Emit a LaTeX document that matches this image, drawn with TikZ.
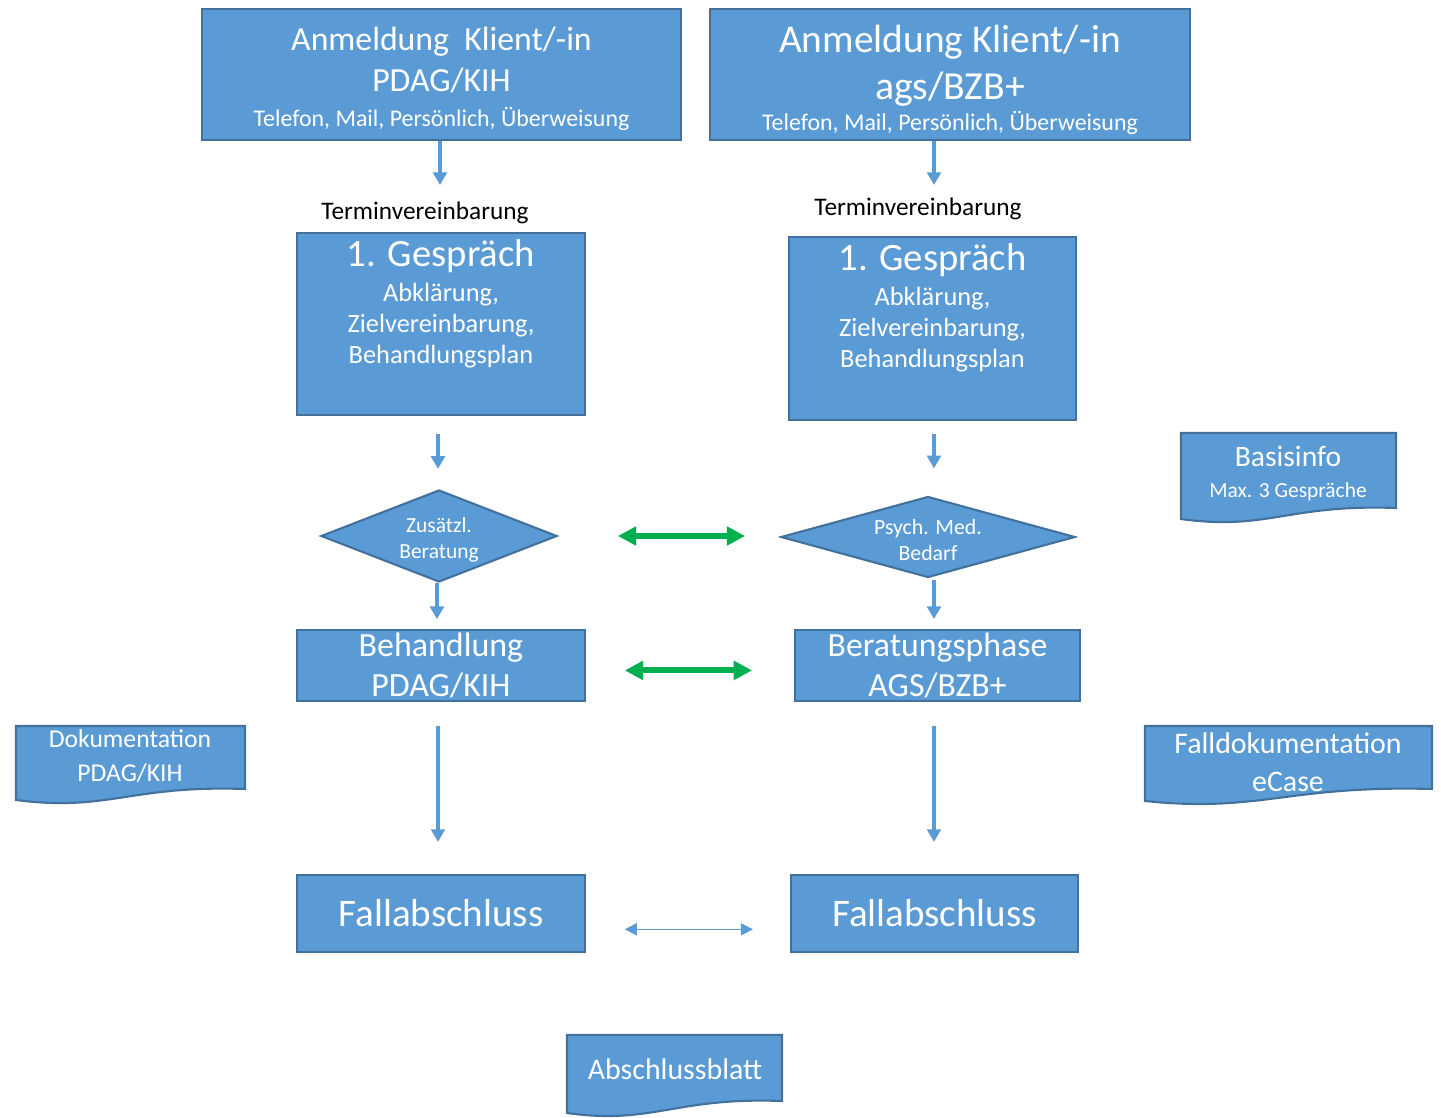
\documentclass[tikz,border=0pt]{standalone}
\usepackage{fontspec}
\setmainfont{Carlito}
\usetikzlibrary{arrows.meta,shapes.geometric,positioning}
\definecolor{boxblue}{HTML}{5B9BD5}
\definecolor{boxline}{HTML}{41719C}
\definecolor{linkgreen}{HTML}{00B050}
\newcommand{\fs}[2]{\fontsize{#1}{#2}\selectfont}

\begin{document}
\begin{tikzpicture}[x=0.01cm,y=-0.01cm,
    box/.style={draw=boxline,fill=boxblue,line width=0.6pt,text=white,align=center,inner sep=0pt},
    dec/.style={diamond,draw=boxline,fill=boxblue,line width=0.6pt,text=white,align=center,inner sep=0pt},
    doc/.style={draw=boxline,fill=boxblue,line width=0.6pt},
    txt/.style={text=white,align=center,inner sep=0pt},
    flow/.style={draw=boxblue,line width=1.1pt,-{Triangle[length=3.6pt,width=3.9pt]}},
    link/.style={draw=linkgreen,line width=1.7pt,{Triangle[length=5.2pt,width=5.2pt]}-{Triangle[length=5.2pt,width=5.2pt]}},
    thinlink/.style={draw=boxblue,line width=0.4pt,{Triangle[length=3.4pt,width=3.4pt]}-{Triangle[length=3.4pt,width=3.4pt]}}]
    \useasboundingbox (0,0) rectangle (1441,1118);

    % linke Spalte
    \node[box,minimum width=4.79cm,minimum height=1.31cm,font=\fs{9.6}{11.6}] (anmA) at (441.5,74.5)
        {\rule{0pt}{9.2pt}\fs{9.6}{11.6}Anmeldung~ Klient/-in\\\fs{9.6}{11.6}PDAG/KIH\\[-1.7pt]\fs{6.8}{8}Telefon, Mail, Persönlich, Überweisung};
    \node[inner sep=0pt,font=\fs{7.2}{8}] (termA) at (425,213) {Terminvereinbarung};
    \node[box,minimum width=2.88cm,minimum height=1.82cm] (gespA) at (441,324) {};
    \node[txt,below=2pt of gespA.north,font=\fs{7.5}{8.9}] (gespAtxt)
        {\fs{11}{13}1. Gespräch\\[1pt]\fs{7.5}{8.9}Abklärung,\\\fs{7.5}{8.9}Zielvereinbarung,\\\fs{7.5}{8.9}Behandlungsplan};
    \node[dec,aspect=2.57,minimum width=2.36cm,minimum height=0.92cm,font=\fs{6.1}{7.4}] (zusA) at (439,536) {\rule{0pt}{6.5pt}Zusätzl.\\Beratung};
    \node[box,minimum width=2.88cm,minimum height=0.71cm,font=\fs{9.65}{11.6}] (behA) at (441,665.5) {Behandlung\\PDAG/KIH};
    \node[box,minimum width=2.88cm,minimum height=0.77cm,font=\fs{11.1}{13}] (endA) at (441,913.5) {Fallabschluss};

    % rechte Spalte
    \node[box,minimum width=4.80cm,minimum height=1.31cm,font=\fs{11.2}{13.3}] (anmB) at (950,74.5)
        {\rule{0pt}{10.8pt}\fs{11.2}{13.3}Anmeldung Klient/-in\\\fs{11.3}{13.3}ags/BZB+\\[-4.5pt]\fs{6.8}{8}Telefon, Mail, Persönlich, Überweisung};
    \node[inner sep=0pt,font=\fs{7.2}{8}] (termB) at (918,209) {Terminvereinbarung};
    \node[box,minimum width=2.87cm,minimum height=1.83cm] (gespB) at (932.5,328.5) {};
    \node[txt,below=2pt of gespB.north,font=\fs{7.5}{8.9}] (gespBtxt)
        {\fs{11}{13}1. Gespräch\\[1pt]\fs{7.5}{8.9}Abklärung,\\\fs{7.5}{8.9}Zielvereinbarung,\\\fs{7.5}{8.9}Behandlungsplan};
    \node[dec,aspect=3.63,minimum width=2.94cm,minimum height=0.81cm,font=\fs{6.2}{7.4}] (psyB) at (928,537) {\rule{0pt}{6pt}Psych. Med.\\Bedarf};
    \node[box,minimum width=2.85cm,minimum height=0.71cm,font=\fs{9.6}{11.2}] (berB) at (937.5,665.5) {Beratungsphase\\AGS/BZB+};
    \node[box,minimum width=2.87cm,minimum height=0.77cm,font=\fs{11.1}{13}] (endB) at (934.5,913.5) {Fallabschluss};

    % Dokumente
    \filldraw[doc] (1181,433) -- (1396,433) -- (1396,508) .. controls (1288,504) and (1267,531) .. (1181,519) -- cycle;
    \node[txt,font=\fs{6.1}{8.8}] (basis) at (1288,474) {\fs{8.4}{10}Basisinfo\\\fs{6.1}{8}Max. 3 Gespräche};
    \filldraw[doc] (16,726) -- (245,726) -- (245,789) .. controls (130,785) and (108,812) .. (16,800) -- cycle;
    \node[txt,font=\fs{7.3}{9.6}] (dokA) at (130,756) {Dokumentation\\PDAG/KIH};
    \filldraw[doc] (1145,726) -- (1432,726) -- (1432,789) .. controls (1288,785) and (1260,813) .. (1145,801) -- cycle;
    \node[txt,font=\fs{8.5}{10.8}] (dokB) at (1288,762) {Falldokumentation\\eCase};
    \filldraw[doc] (567,1035) -- (782,1035) -- (782,1101) .. controls (674,1097) and (653,1125) .. (567,1113) -- cycle;
    \node[txt,font=\fs{8.5}{10}] (blatt) at (675,1069) {Abschlussblatt};

    % Pfeile
    \draw[flow] (anmA.south -| 440,0) -- (440,185);
    \draw[flow] (anmB.south -| 934,0) -- (934,185);
    \draw[flow,shorten <=5.1pt,shorten >=5.7pt] (gespA.south -| 438,0) -- (zusA.north -| 438,0);
    \draw[flow,shorten <=3.7pt,shorten >=7.7pt] (gespB.south -| 934,0) -- (psyB.north -| 934,0);
    \draw[flow,shorten >=2.8pt] (zusA.south -| 437,0) -- (behA.north -| 437,0);
    \draw[flow,shorten <=0.5pt,shorten >=2.8pt] (psyB.south -| 934,0) -- (berB.north -| 934,0);
    \draw[flow,shorten <=6.8pt,shorten >=9.1pt] (behA.south -| 438,0) -- (endA.north -| 438,0);
    \draw[flow,shorten <=6.8pt,shorten >=9.1pt] (berB.south -| 934,0) -- (endB.north -| 934,0);
    \draw[link,shorten <=17pt,shorten >=9.9pt] (zusA.east) -- (psyB.west |- zusA.east);
    \draw[link,shorten <=11pt,shorten >=11.9pt] ([yshift=-1.4pt]behA.east) -- ([yshift=-1.4pt]berB.west);
    \draw[thinlink,shorten <=11pt,shorten >=10.5pt] ([yshift=-4.5pt]endA.east) -- ([yshift=-4.5pt]endB.west);
\end{tikzpicture}
\end{document}
